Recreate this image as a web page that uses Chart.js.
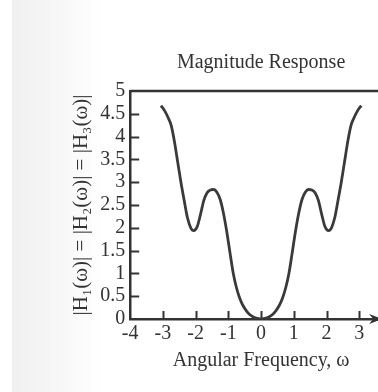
<!DOCTYPE html>
<html>
<head>
<meta charset="utf-8">
<script src="https://cdn.jsdelivr.net/npm/chart.js@4"></script>
<style>
html,body{margin:0;padding:0;overflow:hidden;width:378px;height:392px;background:#fff;}
#bg{position:absolute;left:0;top:0;width:378px;height:392px;
 background:linear-gradient(to right,#fff 0,#fff 12px,#f0f0f0 12px,#f4f4f4 40px,#fafafa 75px,#fff 105px);}
#wrap{position:absolute;left:0;top:0;width:400px;height:392px;}
</style>
</head>
<body>
<div id="bg"></div>
<div id="wrap"><canvas id="c" width="400" height="392"></canvas></div>
<script>
// Angular frequency samples (x) and read-off magnitude values (y)
const omega = [
  -3.06, -2.95, -2.85, -2.75, -2.65, -2.55, -2.45, -2.35, -2.25, -2.15, -2.06,
  -1.95, -1.85, -1.75, -1.65, -1.55, -1.45, -1.35, -1.25, -1.15, -1.05,
  -0.95, -0.85, -0.75, -0.65, -0.55, -0.45, -0.35, -0.25, -0.15, -0.05, 0,
  0.05, 0.15, 0.25, 0.35, 0.45, 0.55, 0.65, 0.75, 0.85, 0.95,
  1.05, 1.15, 1.25, 1.35, 1.45, 1.55, 1.65, 1.75, 1.85, 1.95,
  2.06, 2.15, 2.25, 2.35, 2.45, 2.55, 2.65, 2.75, 2.85, 2.95, 3.06
];
const magnitude = [
  4.68, 4.57, 4.43, 4.25, 3.90, 3.45, 3.00, 2.60, 2.22, 2.00, 1.94,
  2.03, 2.30, 2.60, 2.77, 2.83, 2.84, 2.78, 2.62, 2.32, 1.92,
  1.45, 1.00, 0.68, 0.45, 0.29, 0.18, 0.10, 0.05, 0.02, 0.005, 0,
  0.005, 0.02, 0.05, 0.10, 0.18, 0.29, 0.45, 0.68, 1.00, 1.45,
  1.92, 2.32, 2.62, 2.78, 2.84, 2.83, 2.77, 2.60, 2.30, 2.03,
  1.94, 2.00, 2.22, 2.60, 3.00, 3.45, 3.90, 4.25, 4.43, 4.57, 4.68
];
const xTickLabels = ['-4', '-3', '-2', '-1', '0', '1', '2', '3', '4'];
const yTickLabels = ['0', '0.5', '1', '1.5', '2', '2.5', '3', '3.5', '4', '4.5', '5'];

const chartTitle = 'Magnitude Response';
const xTitle = 'Angular Frequency, \u03C9';
const yTitle = '|H\u2081(\u03C9)| = |H\u2082(\u03C9)| = |H\u2083(\u03C9)|';

const INK = '#333333';
const FONT = '"Liberation Serif", "Times New Roman", serif';

const points = omega.map((w, i) => ({ x: w, y: magnitude[i] }));

const frame = {
  id: 'frame',
  afterDatasetsDraw(chart) {
    const { ctx, chartArea: a, scales: { x, y } } = chart;
    ctx.save();
    ctx.strokeStyle = INK;
    ctx.fillStyle = INK;
    ctx.lineWidth = 2;
    // inward ticks on y axis
    y.ticks.forEach(t => {
      if (t.value <= y.min || t.value >= y.max) return;
      const p = Math.round(y.getPixelForValue(t.value)) + 0.5;
      ctx.beginPath(); ctx.moveTo(a.left, p); ctx.lineTo(a.left + 9, p); ctx.stroke();
    });
    // inward ticks on x axis
    x.ticks.forEach(t => {
      if (t.value <= x.min || t.value >= x.max) return;
      const p = Math.round(x.getPixelForValue(t.value)) + 0.5;
      ctx.beginPath(); ctx.moveTo(p, a.bottom); ctx.lineTo(p, a.bottom - 8); ctx.stroke();
    });
    // top border
    ctx.lineWidth = 2.5;
    ctx.beginPath(); ctx.moveTo(a.left, a.top); ctx.lineTo(a.right, a.top); ctx.stroke();
    // arrow head on x axis
    const tip = x.getPixelForValue(3.7);
    ctx.beginPath();
    ctx.moveTo(tip, a.bottom);
    ctx.lineTo(tip - 13, a.bottom - 5);
    ctx.lineTo(tip - 9, a.bottom);
    ctx.lineTo(tip - 13, a.bottom + 5);
    ctx.closePath();
    ctx.fill();
    ctx.restore();
  }
};

new Chart(document.getElementById('c'), {
  type: 'scatter',
  data: {
    datasets: [{
      data: points,
      showLine: true,
      borderColor: '#3a3a3a',
      borderWidth: 2.8,
      pointRadius: 0,
      cubicInterpolationMode: 'monotone',
      fill: false
    }]
  },
  options: {
    responsive: false,
    animation: false,
    devicePixelRatio: 1,
    layout: { padding: { left: 69, right: 7, top: 51, bottom: 19 } },
    plugins: {
      legend: { display: false },
      tooltip: { enabled: false },
      title: {
        display: true,
        text: chartTitle,
        fullSize: false,
        color: INK,
        font: { family: FONT, size: 20, weight: 'normal' },
        padding: { top: 0, bottom: 16 }
      }
    },
    scales: {
      x: {
        type: 'linear',
        min: -4, max: 4,
        grid: { drawOnChartArea: false, drawTicks: false },
        border: { display: true, color: INK, width: 2.5 },
        ticks: {
          stepSize: 1,
          autoSkip: false,
          padding: 3,
          color: INK,
          maxRotation: 0,
          font: { family: FONT, size: 20 },
          callback: (v) => xTickLabels[Math.round(v + 4)]
        },
        title: {
          display: true,
          text: xTitle,
          color: INK,
          font: { family: FONT, size: 20 },
          padding: { top: 0, bottom: 0 }
        }
      },
      y: {
        type: 'linear',
        min: 0, max: 5,
        grid: { drawOnChartArea: false, drawTicks: false },
        border: { display: true, color: INK, width: 2.5 },
        ticks: {
          stepSize: 0.5,
          autoSkip: false,
          padding: 5,
          color: INK,
          font: { family: FONT, size: 20 },
          callback: (v) => yTickLabels[Math.round(v * 2)]
        },
        title: {
          display: true,
          text: yTitle,
          color: INK,
          font: { family: FONT, size: 21 },
          padding: { top: 0, bottom: 1 }
        }
      }
    }
  },
  plugins: [frame]
});
</script>
</body>
</html>
